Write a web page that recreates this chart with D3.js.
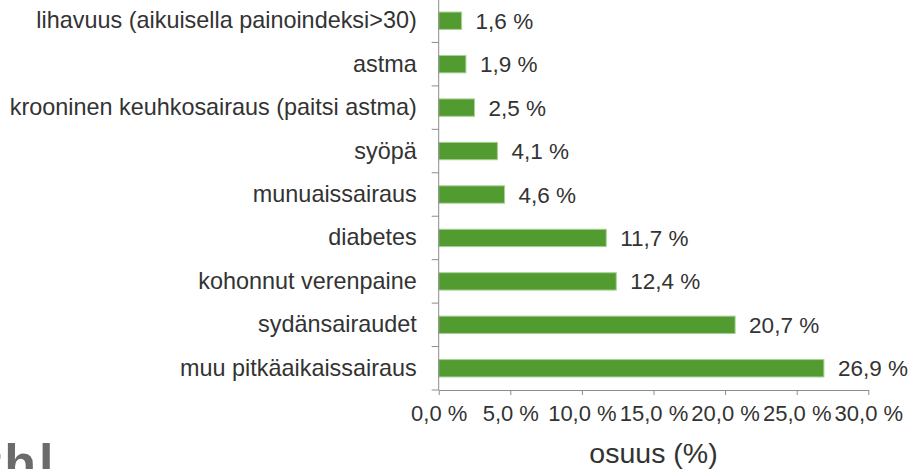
<!DOCTYPE html>
<html>
<head>
<meta charset="utf-8">
<script src="https://cdn.jsdelivr.net/npm/d3@7"></script>
<style>
    body { margin: 0; background: #fff; }
    svg { display: block; font-family: "Liberation Sans", Arial, sans-serif; }
</style>
</head>
<body>
<div id="chart"></div>
<script>
var categories = [
    "lihavuus (aikuisella painoindeksi>30)",
    "astma",
    "krooninen keuhkosairaus (paitsi astma)",
    "syöpä",
    "munuaissairaus",
    "diabetes",
    "kohonnut verenpaine",
    "sydänsairaudet",
    "muu pitkäaikaissairaus"
];
var values = [1.6, 1.9, 2.5, 4.1, 4.6, 11.7, 12.4, 20.7, 26.9];
var xTicks = [0, 5, 10, 15, 20, 25, 30];
var xTitle = "osuus (%)";

function fmt(d) {
    return d.toFixed(1).replace(".", ",") + " %";
}

function initChart() {
    var width = 910,
            height = 469;

    var svg = d3.select("#chart")
            .append("svg")
            .attr("width", width)
            .attr("height", height);

    var x = d3.scaleLinear().domain([0, 30]).range([438.7, 868.3]);
    var y = d3.scaleBand().domain(categories).range([-1, 390])
            .paddingInner(0.6).paddingOuter(0.3);

    var axisColor = "#8c8c8c",
            textColor = "#333";

    // bars
    svg.selectAll("rect.bar")
            .data(values)
            .enter().append("rect")
            .attr("class", "bar")
            .attr("x", x(0))
            .attr("y", function(d, i) { return y(categories[i]); })
            .attr("width", function(d) { return x(d) - x(0); })
            .attr("height", y.bandwidth())
            .style("fill", "#529b30")
            .style("stroke", "#a9d196")
            .style("stroke-width", 1);

    // value labels
    svg.selectAll("text.val")
            .data(values)
            .enter().append("text")
            .attr("class", "val")
            .attr("x", function(d) { return x(d) + 14; })
            .attr("y", function(d, i) { return y(categories[i]) + y.bandwidth() / 2; })
            .attr("dy", "0.36em")
            .style("font-size", "22.5px")
            .style("fill", textColor)
            .text(fmt);

    // x axis
    var xAxis = svg.append("g")
            .attr("transform", "translate(0,390)")
            .call(d3.axisBottom(x).tickValues(xTicks).tickFormat(fmt)
                    .tickSize(5).tickSizeOuter(0).tickPadding(10));
    xAxis.select(".domain").attr("stroke", axisColor);
    xAxis.selectAll(".tick line").attr("stroke", axisColor);
    xAxis.selectAll(".tick text")
            .style("font-size", "22px")
            .style("font-family", "'Liberation Sans', Arial, sans-serif")
            .attr("fill", textColor);

    // y axis with category labels
    var yAxis = svg.append("g")
            .attr("transform", "translate(" + x(0) + ",0)")
            .call(d3.axisLeft(y).tickSize(0).tickPadding(22));
    yAxis.select(".domain").remove();
    yAxis.selectAll(".tick text")
            .style("font-size", "23.4px")
            .style("font-family", "'Liberation Sans', Arial, sans-serif")
            .attr("fill", textColor);

    var gap = (y.step() - y.bandwidth()) / 2;
    var bounds = categories.map(function(c) { return y(c) - gap; });
    bounds.push(y.range()[1]);

    svg.append("line")
            .attr("x1", x(0)).attr("x2", x(0))
            .attr("y1", y.range()[0]).attr("y2", y.range()[1])
            .attr("stroke", axisColor);

    svg.selectAll("line.ytick")
            .data(bounds)
            .enter().append("line")
            .attr("class", "ytick")
            .attr("x1", x(0) - 7).attr("x2", x(0))
            .attr("y1", function(d) { return d; })
            .attr("y2", function(d) { return d; })
            .attr("stroke", axisColor);

    // axis title
    svg.append("text")
            .attr("x", (x.range()[0] + x.range()[1]) / 2)
            .attr("y", 463)
            .attr("text-anchor", "middle")
            .style("font-size", "28.5px")
            .style("fill", textColor)
            .text(xTitle);

    // logo, cut off at the bottom edge like in the original
    svg.append("text")
            .attr("x", -16)
            .attr("y", 481)
            .style("font-size", "52px")
            .style("font-weight", "bold")
            .style("letter-spacing", "3px")
            .style("fill", "#6b6b6b")
            .text("thl");
}

initChart();
</script>
</body>
</html>
